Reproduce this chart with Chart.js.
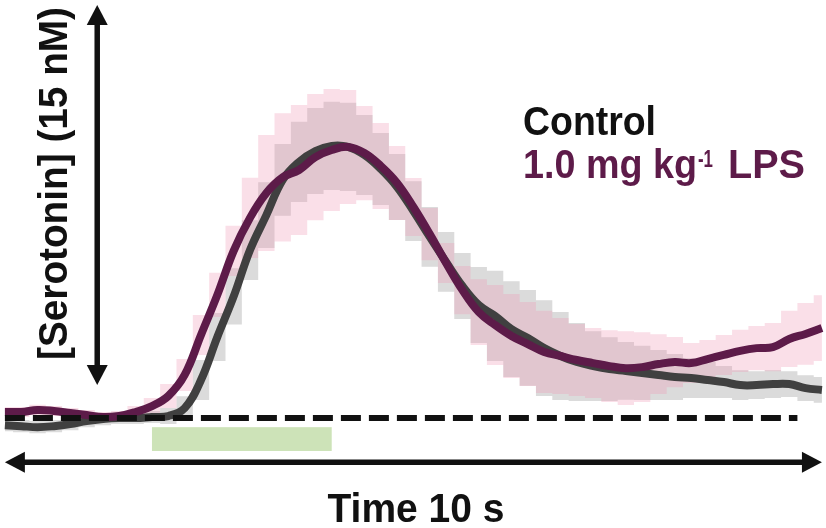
<!DOCTYPE html>
<html>
<head>
<meta charset="utf-8">
<script src="https://cdn.jsdelivr.net/npm/chart.js@4.4.1/dist/chart.umd.min.js"></script>
<style>
  html, body { margin: 0; padding: 0; background: #fff; }
  #wrap { width: 826px; height: 528px; position: relative; }
</style>
</head>
<body>
<div id="wrap"><canvas id="myChart"></canvas></div>
<script>
// time (s), one sample every 0.2 s
const time = [0, 0.2, 0.4, 0.6, 0.8, 1.0, 1.2, 1.4, 1.6, 1.8, 2.0, 2.2, 2.4, 2.6, 2.8, 3.0, 3.2, 3.4, 3.6, 3.8,
  4.0, 4.2, 4.4, 4.6, 4.8, 5.0, 5.2, 5.4, 5.6, 5.8, 6.0, 6.2, 6.4, 6.6, 6.8, 7.0, 7.2, 7.4, 7.6, 7.8,
  8.0, 8.2, 8.4, 8.6, 8.8, 9.0, 9.2, 9.4, 9.6, 9.8, 10.0];

// [serotonin] change (nM) - control
const control = [-0.28, -0.32, -0.36, -0.32, -0.24, -0.12, -0.04, 0.00, 0.00, 0.04, 0.08, 0.39, 1.50, 3.20, 4.80,
  6.63, 8.01, 9.40, 10.11, 10.54, 10.74, 10.70, 10.38, 9.83, 9.12, 8.17, 7.15, 6.16, 5.21, 4.46, 4.03, 3.51,
  3.16, 2.76, 2.45, 2.21, 2.05, 1.93, 1.86, 1.78, 1.70, 1.62, 1.58, 1.50, 1.42, 1.30, 1.30, 1.34, 1.34, 1.18, 1.11];
const controlSem = [0.24, 0.24, 0.24, 0.24, 0.24, 0.24, 0.24, 0.24, 0.24, 0.24, 0.32, 0.47, 0.79, 0.95, 1.11,
  1.18, 1.30, 1.42, 1.58, 1.70, 1.74, 1.74, 1.58, 1.42, 1.30, 1.18, 1.18, 1.18, 1.30, 1.50, 1.78, 1.89,
  1.89, 1.89, 1.74, 1.54, 1.38, 1.26, 1.14, 1.07, 0.99, 0.91, 0.79, 0.71, 0.63, 0.59, 0.55, 0.55, 0.51, 0.51, 0.51];

// [serotonin] change (nM) - 1.0 mg/kg LPS
const lps = [0.24, 0.24, 0.32, 0.28, 0.20, 0.12, 0.04, 0.08, 0.24, 0.47, 0.87, 1.70, 3.28, 4.86, 6.60,
  7.90, 8.88, 9.50, 9.79, 10.30, 10.58, 10.70, 10.46, 9.95, 9.28, 8.33, 7.26, 6.12, 5.05, 4.18, 3.67, 3.24,
  2.92, 2.61, 2.45, 2.29, 2.17, 2.05, 1.97, 2.01, 2.13, 2.21, 2.17, 2.33, 2.49, 2.65, 2.76, 2.80, 3.12, 3.32, 3.55];
const lpsSem = [0.20, 0.20, 0.20, 0.20, 0.20, 0.20, 0.20, 0.20, 0.24, 0.32, 0.47, 0.63, 0.79, 0.87, 0.99,
  1.58, 2.29, 2.53, 2.57, 2.49, 2.41, 2.25, 1.86, 1.70, 1.46, 1.14, 1.03, 0.79, 0.95, 1.30, 1.58, 1.66,
  1.66, 1.62, 1.50, 1.42, 1.38, 1.42, 1.46, 1.38, 1.18, 0.99, 0.79, 0.75, 0.79, 0.83, 0.87, 0.95, 1.11, 1.22, 1.30];

const stimulus = [1.8, 4.0];   // s, green bar
const baselineEnd = 9.7;       // s, end of dashed zero line
const concBar = 15;            // nM, vertical scale arrow
const timeBar = 10;            // s, horizontal scale arrow

const labelControl = 'Control';
const labelLps = ['1.0 mg kg', '-1', 'LPS'];
const labelY = '[Serotonin] (15 nM)';
const labelX = 'Time 10 s';

const gray = '#404040';
const purple = '#5d1b49';
const FONT = '"Liberation Sans", Arial, Helvetica, sans-serif';

function series(vals) {
  return vals.map((v, i) => ({ x: time[i], y: v }));
}
function upper(mean, sem) {
  return mean.map((v, i) => ({ x: time[i], y: v + sem[i] }));
}
function lower(mean, sem) {
  return mean.map((v, i) => ({ x: time[i], y: v - sem[i] }));
}

function arrow(ctx, x1, y1, x2, y2) {
  const head = 20, half = 10.5;
  const ang = Math.atan2(y2 - y1, x2 - x1);
  const len = Math.hypot(x2 - x1, y2 - y1);
  ctx.save();
  ctx.translate(x1, y1);
  ctx.rotate(ang);
  ctx.fillStyle = '#111';
  ctx.strokeStyle = '#111';
  ctx.lineWidth = 5.5;
  ctx.beginPath(); ctx.moveTo(head - 2, 0); ctx.lineTo(len - head + 2, 0); ctx.stroke();
  ctx.beginPath(); ctx.moveTo(0, 0); ctx.lineTo(head, -half); ctx.lineTo(head, half); ctx.closePath(); ctx.fill();
  ctx.beginPath(); ctx.moveTo(len, 0); ctx.lineTo(len - head, -half); ctx.lineTo(len - head, half); ctx.closePath(); ctx.fill();
  ctx.restore();
}

// draw text squeezed to a given width
function fitText(ctx, text, x, y, size, width, align) {
  ctx.save();
  ctx.font = 'bold ' + size + 'px ' + FONT;
  const w = ctx.measureText(text).width;
  ctx.translate(x, y);
  ctx.scale(width / w, 1);
  ctx.textAlign = align || 'left';
  ctx.fillText(text, 0, 0);
  ctx.restore();
}

const decor = {
  id: 'decor',
  afterDraw(chart) {
    const ctx = chart.ctx;
    const xs = chart.scales.x, ys = chart.scales.y;
    ctx.save();

    // stimulation bar
    ctx.fillStyle = '#cde3b8';
    const sx1 = xs.getPixelForValue(stimulus[0]), sx2 = xs.getPixelForValue(stimulus[1]);
    const sy1 = ys.getPixelForValue(-0.36), sy2 = ys.getPixelForValue(-1.30);
    ctx.fillRect(sx1, sy1, sx2 - sx1, sy2 - sy1);

    // scale arrows
    const ay = ys.getPixelForValue(-1.74);
    arrow(ctx, xs.getPixelForValue(0), ay, xs.getPixelForValue(timeBar), ay);
    const ax = xs.getPixelForValue(1.13);
    arrow(ctx, ax, ys.getPixelForValue(1.3), ax, ys.getPixelForValue(1.3 + concBar));

    // labels
    ctx.textBaseline = 'alphabetic';
    ctx.fillStyle = '#111';
    fitText(ctx, labelControl, 523, 135, 40, 133);
    ctx.fillStyle = purple;
    fitText(ctx, labelLps[0], 523, 178, 40, 174);
    fitText(ctx, labelLps[1], 698, 167, 23, 15);
    fitText(ctx, labelLps[2], 728, 178, 40, 77);

    ctx.fillStyle = '#111';
    fitText(ctx, labelX, 416, 522, 40, 177, 'center');

    ctx.save();
    ctx.translate(67, 183.5);
    ctx.rotate(-Math.PI / 2);
    fitText(ctx, labelY, 0, 0, 40, 353, 'center');
    ctx.restore();

    ctx.restore();
  }
};

const bandStyle = { stepped: 'middle', borderWidth: 0, pointRadius: 0 };

const ctx = document.getElementById('myChart');

new Chart(ctx, {
  type: 'line',
  data: {
    datasets: [
      // control SEM band (0,1)
      Object.assign({ label: 'Control +SEM', data: upper(control, controlSem), fill: '+1',
        backgroundColor: 'rgba(160, 160, 160, 0.38)', order: 4 }, bandStyle),
      Object.assign({ label: 'Control -SEM', data: lower(control, controlSem), fill: false, order: 4 }, bandStyle),
      // LPS SEM band (2,3)
      Object.assign({ label: 'LPS +SEM', data: upper(lps, lpsSem), fill: '+1',
        backgroundColor: 'rgba(240, 150, 180, 0.30)', order: 3 }, bandStyle),
      Object.assign({ label: 'LPS -SEM', data: lower(lps, lpsSem), fill: false, order: 3 }, bandStyle),
      {
        label: 'Control',
        data: series(control),
        borderColor: gray,
        borderWidth: 8,
        tension: 0.4,
        pointRadius: 0,
        fill: false,
        order: 2
      },
      {
        label: '1.0 mg kg-1 LPS',
        data: series(lps),
        borderColor: purple,
        borderWidth: 8,
        tension: 0.4,
        pointRadius: 0,
        fill: false,
        order: 1
      },
      {
        label: 'baseline',
        data: [{ x: 0, y: 0 }, { x: baselineEnd, y: 0 }],
        borderColor: '#111',
        borderWidth: 6,
        borderDash: [20, 8],
        borderCapStyle: 'butt',
        pointRadius: 0,
        fill: false,
        order: 0
      }
    ]
  },
  options: {
    responsive: true,
    maintainAspectRatio: false,
    animation: false,
    layout: { padding: 0 },
    plugins: {
      legend: { display: false },
      tooltip: { enabled: false }
    },
    scales: {
      x: { type: 'linear', min: -0.06, max: 10.05, display: false },
      y: { min: -4.34, max: 16.5, display: false }
    }
  },
  plugins: [decor]
});
</script>
</body>
</html>
